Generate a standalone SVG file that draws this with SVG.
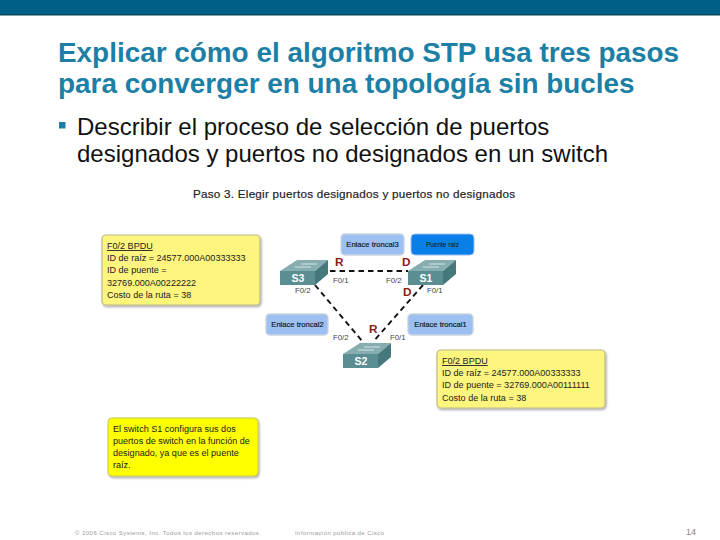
<svg xmlns="http://www.w3.org/2000/svg" width="720" height="540" viewBox="0 0 720 540">
<style>
text{font-family:"Liberation Sans",Arial,sans-serif}
.t{font-size:27.9px;font-weight:700;fill:#1c7fa6}
.b{font-size:24px;fill:#111}
.n{font-size:9.05px;fill:#222}
.s{font-size:7.6px;fill:#111;stroke:#111;stroke-width:.15}
.p{font-size:7.8px;fill:#444}
.rd{font-size:11.8px;font-weight:700;fill:#8b1a1a}
.lk{fill:#9cc0f2;stroke:#c9d3e0;stroke-width:1.3}
.y{fill:#fdf57d;stroke:#bdb98a;stroke-width:1.2}
.top{fill:#86aeb0}.fr{fill:#5a8e92}
.sw{font-size:10.5px;font-weight:700;fill:#fff}
.cn{fill:none;stroke:#111;stroke-width:1.9;stroke-dasharray:5.5 4}
.f{font-size:6px;fill:#999}
</style>
<defs>
<filter id="sh" x="-5%" y="-5%" width="112%" height="115%"><feDropShadow dx="1" dy="1.5" stdDeviation="1" flood-color="#000" flood-opacity=".35"/></filter>
<g id="switch">
<path class="top" d="M-21 0 L-4 -11 H27 L14 0Z"/>
<path class="fr" d="M-21 0 H14 V14 H-21Z"/>
<path fill="#44787b" d="M14 0 L27 -11 V3 L14 14Z"/>
<path d="M-6 -4 H10 M0 -7 H16" stroke="#d4e4e4" stroke-width="1"/>
</g>
</defs>
<rect width="720" height="14" fill="#005f86"/>
<rect y="14" width="720" height="1.5" fill="#0a4a5c"/>
<text class="t" x="58" y="62">Explicar cómo el algoritmo STP usa tres pasos</text>
<text class="t" x="58" y="93">para converger en una topología sin bucles</text>
<rect x="59" y="122" width="6.5" height="6.5" fill="#1c7fa6"/>
<text class="b" x="77" y="135">Describir el proceso de selección de puertos</text>
<text class="b" x="77" y="162">designados y puertos no designados en un switch</text>
<text x="193" y="198" font-size="11.7" fill="#222" stroke="#222" stroke-width=".2" textLength="322">Paso 3. Elegir puertos designados y puertos no designados</text>
<g id="connectors">
<path class="cn" d="M330 271 H408"/>
<path class="cn" d="M315 285 L363 342"/>
<path class="cn" d="M423 285 L373 342"/>
</g>
<g id="note-s3"><rect class="y" x="102" y="235" width="158" height="70" rx="4" filter="url(#sh)"/>
<text class="n" x="107" y="249" text-decoration="underline">F0/2 BPDU</text>
<text class="n" x="107" y="261">ID de raíz = 24577.000A00333333</text>
<text class="n" x="107" y="273">ID de puente =</text>
<text class="n" x="107" y="286">32769.000A00222222</text>
<text class="n" x="107" y="298">Costo de la ruta = 38</text></g>
<g id="link3"><rect class="lk" x="341" y="234" width="63" height="21" rx="4"/><text class="s" x="372.500" y="247" text-anchor="middle">Enlace troncal3</text></g>
<g id="root"><rect x="411" y="234" width="63" height="21" rx="4" fill="#0a7fe8" stroke="#9cc0ee"/><text x="442.500" y="247" text-anchor="middle" font-size="6.5" fill="#111">Puente raíz</text></g>
<g id="link2"><rect class="lk" x="266" y="314" width="62" height="21" rx="4"/><text class="s" x="297.500" y="327" text-anchor="middle">Enlace troncal2</text></g>
<g id="link1"><rect class="lk" x="408" y="314" width="65" height="21" rx="4"/><text class="s" x="440.500" y="327" text-anchor="middle">Enlace troncal1</text></g>
<g id="S3"><use href="#switch" x="301" y="271"/><text class="sw" x="298" y="282" text-anchor="middle">S3</text></g>
<g id="S1"><use href="#switch" x="429" y="271"/><text class="sw" x="426" y="282" text-anchor="middle">S1</text></g>
<g id="S2"><use href="#switch" x="364" y="354"/><text class="sw" x="361" y="365" text-anchor="middle">S2</text></g>
<g id="ports">
<text class="rd" x="335" y="266">R</text><text class="rd" x="402" y="266">D</text><text class="rd" x="403" y="296">D</text><text class="rd" x="369" y="333">R</text>
<text class="p" x="333" y="283">F0/1</text><text class="p" x="386" y="283">F0/2</text><text class="p" x="427" y="293">F0/1</text><text class="p" x="295" y="293">F0/2</text><text class="p" x="333" y="340">F0/2</text><text class="p" x="390" y="340">F0/1</text>
</g>
<g id="note-s2"><rect class="y" x="437" y="350" width="168" height="58" rx="4" filter="url(#sh)"/>
<text class="n" x="442" y="364" text-decoration="underline">F0/2 BPDU</text>
<text class="n" x="442" y="376">ID de raíz = 24577.000A00333333</text>
<text class="n" x="442" y="388">ID de puente = 32769.000A00111111</text>
<text class="n" x="442" y="401">Costo de la ruta = 38</text></g>
<g id="note-main"><rect x="108" y="418" width="150" height="58" rx="4" fill="#ffff00" stroke="#c8c850" filter="url(#sh)"/>
<text class="n" x="113" y="432">El switch S1 configura sus dos</text>
<text class="n" x="113" y="444">puertos de switch en la función de</text>
<text class="n" x="113" y="456">designado, ya que es el puente</text>
<text class="n" x="113" y="468">raíz.</text></g>
<text class="f" x="75" y="535" textLength="186">© 2006 Cisco Systems, Inc. Todos los derechos reservados.</text>
<text class="f" x="295" y="535" textLength="89">Información pública de Cisco</text>
<text x="686" y="535" font-size="9" fill="#888">14</text>
</svg>
